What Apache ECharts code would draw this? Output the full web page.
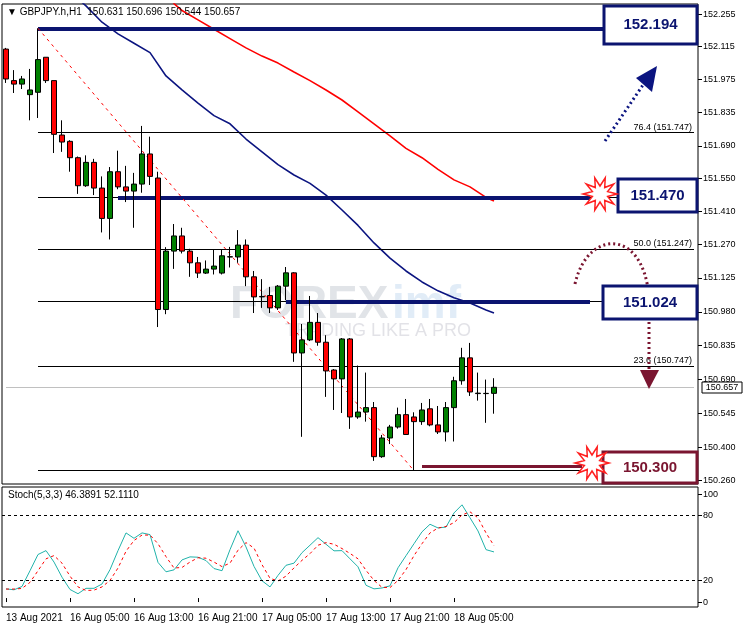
<!DOCTYPE html>
<html><head><meta charset="utf-8">
<script src="https://cdn.jsdelivr.net/npm/echarts@6/dist/echarts.min.js"></script>
<style>html,body{margin:0;padding:0;background:#fff}#c{width:748px;height:632px}</style>
</head><body><div id="c"></div>
<script>
const opens=[152.105,151.97,151.955,151.91,151.92,152.07,151.97,151.737,151.71,151.64,151.52,151.62,151.51,151.38,151.58,151.515,151.497,151.527,151.656,151.553,150.99,151.24,151.305,151.24,151.19,151.146,151.163,151.146,151.215,151.215,151.266,151.13,151.044,151.05,150.997,151.09,151.147,150.804,150.86,150.935,150.85,150.731,150.693,150.864,150.53,150.551,150.57,150.36,150.44,150.487,150.54,150.53,150.51,150.565,150.496,150.466,150.57,150.685,150.783,150.63,150.63,150.631];
const closes=[151.977,151.955,151.977,151.93,152.06,151.97,151.74,151.707,151.64,151.52,151.62,151.51,151.38,151.58,151.515,151.497,151.527,151.656,151.56,150.99,151.24,151.305,151.24,151.19,151.146,151.163,151.176,151.22,151.216,151.266,151.13,151.044,151.046,150.997,151.09,151.147,150.804,150.86,150.935,150.85,150.727,150.693,150.864,150.53,150.551,150.57,150.36,150.44,150.487,150.54,150.455,150.51,150.56,150.496,150.466,150.57,150.685,150.783,150.637,150.632,150.631,150.657];
const lows=[151.96,151.917,151.934,151.80,151.81,151.96,151.66,151.665,151.58,151.485,151.515,151.48,151.32,151.29,151.505,151.45,151.34,151.49,151.523,150.915,150.97,151.164,151.23,151.13,151.125,151.142,151.14,151.14,151.17,151.19,151.09,150.975,150.997,150.975,150.988,151.03,150.766,150.445,150.855,150.835,150.616,150.56,150.547,150.479,150.522,150.51,150.342,150.355,150.414,150.48,150.455,150.30,150.496,150.49,150.457,150.425,150.425,150.668,150.62,150.60,150.505,150.544];
const highs=[152.11,152.015,151.99,152.02,152.194,152.07,151.97,151.80,151.715,151.645,151.65,151.635,151.56,151.60,151.67,151.605,151.575,151.776,151.73,151.58,151.257,151.356,151.34,151.25,151.215,151.20,151.245,151.245,151.258,151.33,151.29,151.155,151.12,151.087,151.095,151.172,151.15,150.928,151.048,150.975,150.88,150.735,150.868,150.868,150.75,150.72,150.594,150.453,150.496,150.57,150.607,150.55,150.59,150.607,150.577,150.594,150.702,150.826,150.847,150.72,150.69,150.696];
const blueMA={7:152.38,8:152.35,10:152.29,12:152.22,14:152.17,16:152.13,18:152.09,20:151.99,22:151.93,24:151.874,26:151.82,28:151.785,30:151.72,32:151.665,34:151.61,36:151.566,38:151.53,40:151.48,42:151.416,44:151.35,46:151.275,48:151.21,50:151.155,52:151.108,54:151.07,56:151.04,58:151.018,60:150.988,61:150.975};
const redMA={19:152.37,20:152.34,21:152.30,22:152.27,24:152.23,26:152.19,28:152.15,30:152.11,32:152.075,34:152.045,36:152.007,38:151.97,40:151.93,42:151.887,44:151.836,46:151.785,48:151.733,50:151.68,52:151.64,54:151.59,56:151.545,58:151.515,60:151.47,61:151.455};
const stochK=[12.2,11.3,14.4,29,44,47.6,37,23,11.6,7.7,12.7,12.7,16.7,30,47.6,64,59,64,62.4,36.7,28,29.8,39,41.8,41.5,38.4,31,29,48.5,66,51,33,19.7,14,24.7,34,36,45.7,52.6,59.6,53.5,47.4,47.6,40,32.6,15.5,12.2,13,15,31.7,42.9,54,65,72,68.6,69.4,82.5,90,78,65.8,48.5,46.39];
const stochD=[12,12,12.6,18.2,29,40,43,36,24,14,10.7,11,14,20,31.5,47,57,62,62,54,42,31.5,32,37,41,40.6,37,32.8,36,48,55,50,34.6,22,19.5,24,31.6,38.6,44.8,52.6,55,53.5,49.5,45,40,29.4,20,13.6,13.4,20,30,43,54,64,68.5,70,73.5,80.6,83.5,78,64,52.11];
const priceTicks=[152.255,152.115,151.975,151.835,151.690,151.550,151.410,151.270,151.125,150.980,150.835,150.690,150.545,150.400,150.260];
const stochTicks=[0,20,80,100];
const timeLabels={0:'13 Aug 2021',8:'16 Aug 05:00',16:'16 Aug 13:00',24:'16 Aug 21:00',32:'17 Aug 05:00',40:'17 Aug 13:00',48:'17 Aug 21:00',56:'18 Aug 05:00'};
const fibHigh=152.194, fibLow=150.300;
const fibLevels=[76.4,61.8,50.0,38.2,23.6];
const fibLabeled=[76.4,50.0,23.6];
const keyLevels=[152.194,151.470,151.024,150.300];
const lastPrice=150.657;
const NSLOT=87;

const cats=[];for(let i=0;i<NSLOT;i++)cats.push(String(i));
const candles=opens.map((o,i)=>[o,closes[i],lows[i],highs[i]]);
function maArr(m){const a=[];for(let i=0;i<NSLOT;i++)a.push(m[i]!==undefined?m[i]:null);return a;}
const F='Liberation Sans';
const fibVal=l=>+(fibLow+(fibHigh-fibLow)*l/100).toFixed(3);
const endIdx=86;
const thin={color:'#000',width:1,type:'solid'};
const mlData=[];
[100,...fibLevels,0].forEach(l=>{const v=fibVal(l);const lab=fibLabeled.includes(l);
 mlData.push([{coord:[4,v],lineStyle:thin,label:{show:lab,formatter:l.toFixed(1)+' ('+v.toFixed(3)+')',position:'insideEndTop',color:'#000',fontSize:9,fontFamily:F,distance:[2,1]}},{coord:[endIdx,v]}]);});
const navy={color:'#0b1470',width:4,type:'solid'};
mlData.push([{coord:[4,keyLevels[0]],lineStyle:navy},{coord:[endIdx,keyLevels[0]]}]);
mlData.push([{coord:[14,keyLevels[1]],lineStyle:navy},{coord:[73,keyLevels[1]]}]);
mlData.push([{coord:[35,keyLevels[2]],lineStyle:navy},{coord:[73,keyLevels[2]]}]);
mlData.push([{coord:[52,keyLevels[3]+0.017],lineStyle:{color:'#7a1530',width:3,type:'solid'}},{coord:[72,keyLevels[3]+0.017]}]);
mlData.push([{coord:[4,fibHigh],lineStyle:{color:'#ff0000',width:1,type:[3,4]}},{coord:[51,fibLow]}]);
mlData.push([{coord:[0,lastPrice],lineStyle:{color:'#c0c0c0',width:1,type:'solid'},label:{show:false}},{coord:[endIdx,lastPrice]}]);

function star(cx,cy,r1,r2,n){const p=[];for(let i=0;i<2*n;i++){const a=Math.PI*i/n;const r=i%2?r2:r1;p.push([cx+r*Math.cos(a),cy+r*Math.sin(a)]);}return p;}
function box(x,y,w,h,txt,col){return [{type:'rect',shape:{x:x,y:y,width:w,height:h},style:{fill:'#fff',stroke:col,lineWidth:3},z:100},
 {type:'text',x:x+w/2,y:y+h/2,style:{text:txt,fill:col,font:'bold 15px '+F,align:'center',verticalAlign:'middle'},z:101}];}

const chart=echarts.init(document.getElementById('c'));
chart.setOption({
 animation:false,
 grid:[{left:2,top:4,width:696,height:480,show:true,borderColor:'#000',borderWidth:1},
       {left:2,top:487,width:696,height:120,show:true,borderColor:'#000',borderWidth:1}],
 xAxis:[{type:'category',data:cats,gridIndex:0,boundaryGap:true,axisLine:{show:false},axisTick:{show:false},axisLabel:{show:false}},
        {type:'category',data:cats,gridIndex:1,boundaryGap:true,axisLine:{show:false},
         axisTick:{show:true,alignWithLabel:true,interval:i=>timeLabels[i]!==undefined,length:-4,lineStyle:{color:'#000'}},
         axisLabel:{interval:i=>timeLabels[i]!==undefined,formatter:(v)=>timeLabels[+v]||'',color:'#000',fontSize:10,fontFamily:F,align:'left',margin:6}}],
 yAxis:[{type:'value',gridIndex:0,position:'right',min:150.243,max:152.298,splitLine:{show:false},axisLine:{show:false},
         axisTick:{show:true,customValues:priceTicks,length:4,lineStyle:{color:'#000'}},
         axisLabel:{customValues:priceTicks,formatter:v=>v.toFixed(3),color:'#000',fontSize:9,fontFamily:F,margin:5}},
        {type:'value',gridIndex:1,position:'right',min:-4.6,max:106.5,splitLine:{show:false},axisLine:{show:false},
         axisTick:{show:true,customValues:stochTicks,length:4,lineStyle:{color:'#000'}},
         axisLabel:{customValues:stochTicks,color:'#000',fontSize:9,fontFamily:F,margin:5}}],
 series:[
  {type:'candlestick',xAxisIndex:0,yAxisIndex:0,data:candles,barWidth:5,
   itemStyle:{color:'#008000',color0:'#ff0000',borderColor:'#000',borderColor0:'#000',borderWidth:1},
   markLine:{symbol:['none','none'],silent:true,animation:false,data:mlData,label:{show:false}},z:5},
  {type:'line',xAxisIndex:0,yAxisIndex:0,data:maArr(blueMA),connectNulls:true,showSymbol:false,lineStyle:{color:'#0b1480',width:1.6},z:3},
  {type:'line',xAxisIndex:0,yAxisIndex:0,data:maArr(redMA),connectNulls:true,showSymbol:false,lineStyle:{color:'#ff0000',width:1.6},z:3},
  {type:'line',xAxisIndex:1,yAxisIndex:1,data:stochK,showSymbol:false,lineStyle:{color:'#20b2aa',width:1},
   markLine:{symbol:['none','none'],silent:true,label:{show:false},lineStyle:{color:'#000',type:[3,3],width:1},data:[{yAxis:80},{yAxis:20}]}},
  {type:'line',xAxisIndex:1,yAxisIndex:1,data:stochD,showSymbol:false,lineStyle:{color:'#ff0000',width:1,type:[3,3]}}
 ],
 graphic:[
  {type:'text',x:230,y:282,style:{text:'FOREX',fill:'rgba(120,130,150,0.22)',font:'bold 46px '+F},z:1},
  {type:'text',x:392,y:282,style:{text:'imf',fill:'rgba(120,170,220,0.22)',font:'bold 46px '+F},z:1},
  {type:'text',x:285,y:322,style:{text:'TRADING LIKE A PRO',fill:'rgba(140,140,160,0.25)',font:'18px '+F},z:1},
  {type:'text',x:7,y:7,style:{text:'▼ GBPJPY.h,H1  150.631 150.696 150.544 150.657',fill:'#000',font:'10px '+F},z:50},
  {type:'text',x:8,y:490,style:{text:'Stoch(5,3,3) 46.3891 52.1110',fill:'#000',font:'10px '+F},z:50},
  {type:'rect',shape:{x:702,y:382,width:40,height:11},style:{fill:'#fff',stroke:'#000',lineWidth:1},z:60},
  {type:'text',x:722,y:388,style:{text:lastPrice.toFixed(3),fill:'#000',font:'9px '+F,align:'center',verticalAlign:'middle'},z:61},
  ...box(604,6,93,38,'152.194','#0b1470'),
  ...box(618,179,79,33,'151.470','#0b1470'),
  ...box(603,286,94,33,'151.024','#0b1470'),
  ...box(603,452,94,31,'150.300','#7a1530'),
  {type:'polygon',shape:{points:star(600,194,17,8,10)},style:{fill:'#fff',stroke:'#ff2020',lineWidth:1.5},z:102},
  {type:'polygon',shape:{points:star(592,463,17,8,10)},style:{fill:'#fff',stroke:'#ff2020',lineWidth:1.5},z:102},
  {type:'line',shape:{x1:605,y1:141,x2:645,y2:82},style:{stroke:'#0b1480',lineWidth:3,lineDash:[2,3]},z:90},
  {type:'polygon',shape:{points:[[657,66],[636,78],[652,92]]},style:{fill:'#0b1480'},z:90},
  {type:'bezierCurve',shape:{x1:575,y1:284,cpx1:588,cpy1:225,cpx2:652,cpy2:228,x2:649,y2:312},style:{stroke:'#7a1530',lineWidth:3,lineDash:[2,3],fill:null},z:90},
  {type:'line',shape:{x1:649,y1:322,x2:649,y2:370},style:{stroke:'#7a1530',lineWidth:3,lineDash:[2,3]},z:90},
  {type:'polygon',shape:{points:[[640,370],[659,370],[649,389]]},style:{fill:'#7a1530'},z:90}
 ]
});
</script></body></html>
